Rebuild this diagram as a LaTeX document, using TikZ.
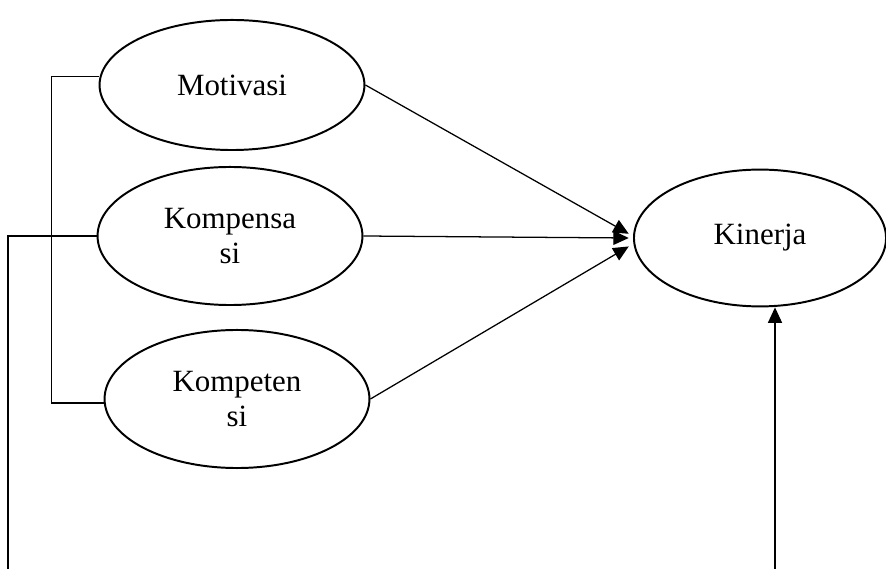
\documentclass[tikz,border=0pt]{standalone}
\usepackage{fontspec}
\setmainfont{Liberation Serif}
\usetikzlibrary{shapes.geometric,arrows.meta}
\begin{document}
\begin{tikzpicture}[x=0.025cm,y=-0.025cm,>={Triangle[length=11pt,width=10pt]},
	varell/.style={ellipse,draw,line width=1.4pt,inner sep=0pt,align=center,
		minimum width=6.62cm,minimum height=3.45cm,font=\fontsize{22}{25}\selectfont},
	link/.style={line width=0.9pt}]
	\useasboundingbox (0,0) rectangle (886,569);
	\node[varell,minimum height=3.25cm] (mot) at (232,85) {Motivasi};
	\node[varell] (kps) at (230,236) {Kompensa\\si};
	\node[varell] (kpt) at (237,399) {Kompeten\\si};
	\node[varell,minimum width=6.3cm,minimum height=3.42cm] (kin) at (760,238) {Kinerja};
	\coordinate (kpsfoot) at (8,569);
	\coordinate (kinfoot) at (775,569);
	% panah ke kinerja
	\draw[link,->] (mot.east) -- ([xshift=-3pt,yshift=3pt]kin.west);
	\draw[link,->] (kps.east) -- ([xshift=-3pt]kin.west);
	\draw[link,->] (kpt.east) -- ([xshift=-3pt,yshift=-6pt]kin.west);
	\draw[link,->] (kinfoot) -- (kinfoot |- kin.south);
	% garis kiri
	\draw[link,line width=1.3pt] ([yshift=6pt]mot.west) -- ++(-47,0) |- ([yshift=-3pt]kpt.west);
	\draw[link,line width=1.3pt] (kps.west) -| (kpsfoot);
\end{tikzpicture}
\end{document}
